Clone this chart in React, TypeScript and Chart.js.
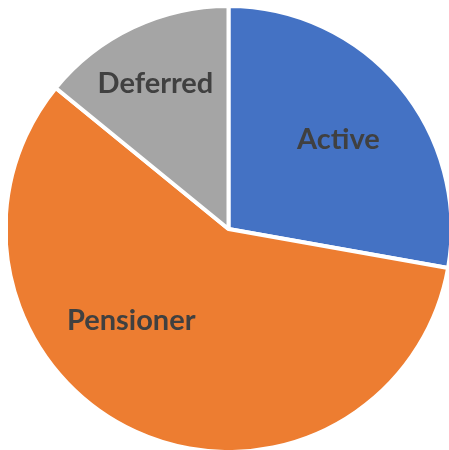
import React, { useEffect, useRef } from "react";
import { Chart, registerables } from "chart.js";

Chart.register(...registerables);

const categories = ["Active", "Pensioner", "Deferred"];
const shares = [27.8, 58.1, 14.1];
const colors = ["#4472C4", "#ED7D31", "#A5A5A5"];

// label placement: fraction of radius, angular shift (degrees) from slice middle
const labelRadius = [0.636, 0.6, 0.73];
const labelShift = [0.8, 22, -1.3];

const labelPlugin = {
  id: "sliceLabels",
  afterDatasetsDraw(chart: any) {
    const ctx = chart.ctx;
    const meta = chart.getDatasetMeta(0);
    ctx.save();
    ctx.font = "bold 29px Lato";
    ctx.fillStyle = "#404040";
    ctx.textAlign = "center";
    ctx.textBaseline = "middle";
    meta.data.forEach((arc: any, i: number) => {
      const p = arc.getProps(["x", "y", "startAngle", "endAngle", "outerRadius"], true);
      const a = (p.startAngle + p.endAngle) / 2 + (labelShift[i] * Math.PI) / 180;
      const r = p.outerRadius * labelRadius[i];
      ctx.fillText(chart.data.labels[i], p.x + Math.cos(a) * r, p.y + Math.sin(a) * r);
    });
    ctx.restore();
  },
};

export default function App() {
  const ref = useRef<HTMLCanvasElement>(null);
  useEffect(() => {
    const chart = new Chart(ref.current!, {
      type: "pie",
      data: {
        labels: categories,
        datasets: [
          {
            data: shares,
            backgroundColor: colors,
            borderColor: "#ffffff",
            borderWidth: 4,
          },
        ],
      },
      options: {
        animation: false,
        responsive: false,
        radius: 223,
        layout: { padding: 0 },
        plugins: {
          legend: { display: false },
          tooltip: { enabled: false },
        },
      } as any,
      plugins: [labelPlugin],
    });
    return () => chart.destroy();
  }, []);
  return (
    <canvas
      ref={ref}
      width={441}
      height={442}
      style={{ position: "absolute", left: 8, top: 8, display: "block", width: 441, height: 442 }}
    />
  );
}
